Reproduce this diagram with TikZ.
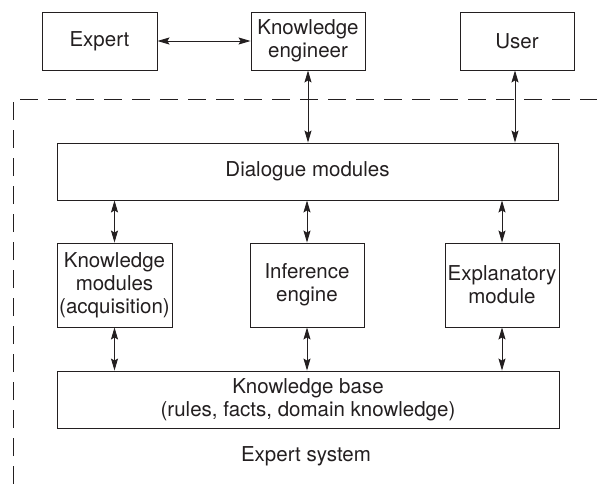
\documentclass[tikz,border=0pt]{standalone}
\usepackage{fontspec}
\setmainfont{TeX Gyre Heros}
\usetikzlibrary{arrows.meta}
\definecolor{ink}{HTML}{231F20}
\begin{document}
\begin{tikzpicture}[x=1pt,y=1pt,
  box/.style={draw=ink,line width=0.9pt,inner sep=0pt,align=center,text=ink,
    font=\fontsize{20.5}{23}\selectfont},
  link/.style={draw=ink,line width=0.9pt,{Stealth[length=12pt,width=7pt,inset=2pt]}-{Stealth[length=12pt,width=7pt,inset=2pt]}},
  border/.style={draw=ink,line width=0.9pt,dash pattern=on 18pt off 10pt}]
\useasboundingbox (0,0) rectangle (597,-484);
\node[box,minimum width=115pt,minimum height=58pt] (expert) at (99.5,-41) {Expert};
\node[box,minimum width=114pt,minimum height=58pt] (ke) at (308,-41) {Knowledge\\engineer};
\node[box,minimum width=114pt,minimum height=58pt] (user) at (517,-41) {User};
\node[box,minimum width=501pt,minimum height=57pt] (dialog) at (307.5,-171.5) {Dialogue modules};
\node[box,minimum width=115pt,minimum height=84pt] (km) at (114.5,-285) {Knowledge\\modules\\(acquisition)};
\node[box,minimum width=114pt,minimum height=84pt] (ie) at (307,-285) {Inference\\engine};
\node[box,minimum width=114pt,minimum height=84pt] (em) at (502,-285) {Explanatory\\module};
\node[box,minimum width=502pt,minimum height=57pt] (kb) at (308,-399.5) {Knowledge base\\(rules, facts, domain knowledge)};
\node[text=ink,font=\fontsize{20.5}{23}\selectfont] (es) at (306,-456) {Expert system};
\coordinate (c1) at (13,-484);
\coordinate (c2) at (13,-99);
\coordinate (c3) at (597,-99);
\draw[border] (c1) -- (c2) -- (c3);
\draw[link] (expert.east) -- (ke.west);
\draw[link] (ke.south) -- (ke.south |- dialog.north);
\draw[link] ([xshift=-2pt]user.south) -- ([xshift=-2pt]user.south |- dialog.north);
\draw[link] (km.north |- dialog.south) -- (km.north);
\draw[link] (ie.north |- dialog.south) -- (ie.north);
\draw[link] (em.north |- dialog.south) -- (em.north);
\draw[link] (km.south) -- (km.south |- kb.north);
\draw[link] (ie.south) -- (ie.south |- kb.north);
\draw[link] (em.south) -- (em.south |- kb.north);
\end{tikzpicture}
\end{document}
